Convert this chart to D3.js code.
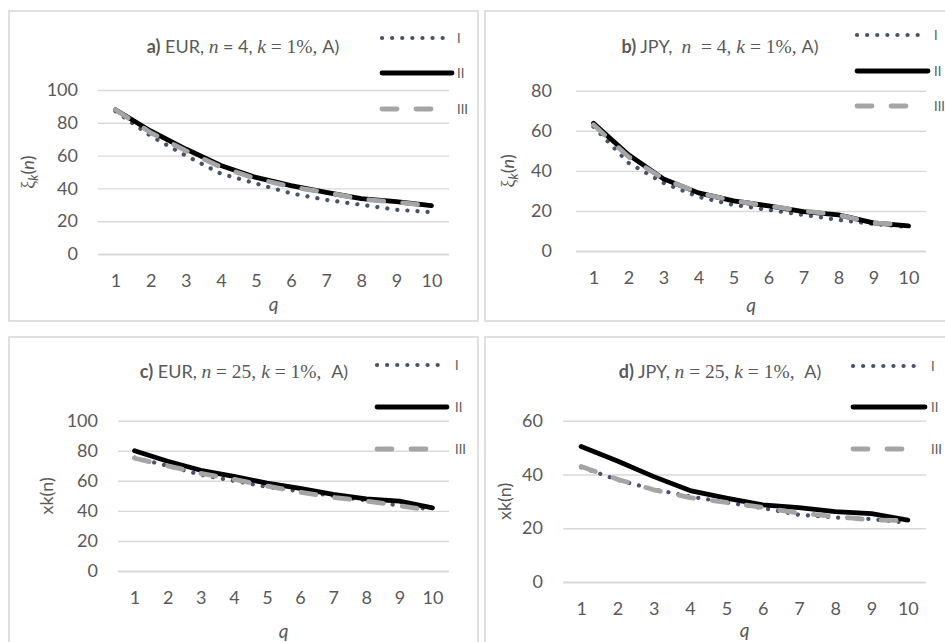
<!DOCTYPE html>
<html>
<head>
<meta charset="utf-8">
<script src="https://cdn.jsdelivr.net/npm/d3@7"></script>
<style>
  html, body { margin: 0; padding: 0; background: #fff; }
  svg { display: block; }
  .tick text { font-family: Lato, "Open Sans", sans-serif; fill: #595959; }
</style>
</head>
<body>
<div id="chart"></div>
<script>
// --- data ---
const qValues = [1, 2, 3, 4, 5, 6, 7, 8, 9, 10];
const seriesNames = ["I", "II", "III"];

const eurN4_I   = [87, 72, 60, 49, 43, 37, 33, 30, 27, 25.5];
const eurN4_II  = [88, 75, 64, 54, 46.7, 41.7, 37.6, 33.8, 32, 29.5];
const eurN4_III = [88, 74, 63, 53, 46, 41, 37.5, 33.5, 31.5, 29.5];

const jpyN4_I   = [62, 44, 34, 27, 23, 20.5, 18, 15.5, 13.5, 12];
const jpyN4_II  = [63.7, 48, 36, 29, 25, 22.5, 19.6, 18, 14, 12.5];
const jpyN4_III = [63, 47, 36, 29, 25, 22.5, 20, 18, 14, 13];

const eurN25_I   = [75.5, 70, 64, 60, 56, 53, 50, 47, 43.5, 41];
const eurN25_II  = [80, 73, 67, 63, 58.5, 55, 51, 48, 46.5, 42];
const eurN25_III = [75, 70, 65, 61, 56.5, 52.5, 49, 46.5, 43.5, 40];

const jpyN25_I   = [42.7, 38, 34.5, 31.8, 29.6, 27.5, 25, 24, 23.4, 22];
const jpyN25_II  = [50.4, 45, 39.2, 34, 31.2, 28.7, 27.7, 26.2, 25.4, 23];
const jpyN25_III = [43, 38.2, 34.3, 31.4, 29.6, 27.8, 25.6, 24.4, 23.1, 22.8];

const yTicksA = [0, 20, 40, 60, 80, 100];
const yTicksB = [0, 20, 40, 60, 80];
const yTicksC = [0, 20, 40, 60, 80, 100];
const yTicksD = [0, 20, 40, 60];

// --- page ---
const width = 945, height = 642;
const sans = "Lato, 'Open Sans', sans-serif";
const serif = "'Liberation Serif', 'DejaVu Serif', serif";
const textColor = "#595959";

const svg = d3.select("#chart").append("svg")
  .attr("width", width)
  .attr("height", height);

// series styles (I dotted, II solid black, III dashed gray)
const styles = [
  { stroke: "#44546a", width: 4.2, dash: "0.1 10" },
  { stroke: "#000000", width: 4.8, dash: null },
  { stroke: "#a5a5a5", width: 4.8, dash: "15 19" }
];

const panels = [
  {
    box: [9, 11, 478, 321],
    plot: { left: 98, right: 449, top: 90, bottom: 254 },
    yMax: 100, yTicks: yTicksA, yPad: 20,
    series: [eurN4_I, eurN4_II, eurN4_III],
    title: [
      { t: "a)", w: "bold" }, { t: " EUR, " },
      { t: "n", f: serif, i: true }, { t: " = 4, " },
      { t: "k", f: serif, i: true }, { t: " = 1%, ", f: serif }, { t: "A)" }
    ],
    titleX: 243, titleY: 53,
    yTitle: "xi", yTitleX: 28,
    legend: { x: 382, len: [65, 70, 58], ys: [38, 73, 109], labelX: 457 },
    qY: 311
  },
  {
    box: [485, 11, 960, 321],
    plot: { left: 576, right: 926, top: 90.7, bottom: 251 },
    yMax: 80, yTicks: yTicksB, yPad: 24,
    series: [jpyN4_I, jpyN4_II, jpyN4_III],
    title: [
      { t: "b)", w: "bold" }, { t: " JPY,  " },
      { t: "n", f: serif, i: true }, { t: "  = 4, ", f: serif },
      { t: "k", f: serif, i: true }, { t: " = 1%, ", f: serif }, { t: "A)" }
    ],
    titleX: 720, titleY: 53,
    yTitle: "xi", yTitleX: 508,
    legend: { x: 857, len: [68, 71, 58], ys: [35, 71, 106], labelX: 934 },
    qY: 312
  },
  {
    box: [9, 337, 478, 660],
    plot: { left: 118, right: 449, top: 420.7, bottom: 571 },
    yMax: 100, yTicks: yTicksC, yPad: 20,
    series: [eurN25_I, eurN25_II, eurN25_III],
    title: [
      { t: "c)", w: "bold" }, { t: " EUR, " },
      { t: "n", f: serif, i: true }, { t: " = 25, ", f: serif },
      { t: "k", f: serif, i: true }, { t: " = 1%,  ", f: serif }, { t: "A)" }
    ],
    titleX: 244, titleY: 378,
    yTitle: "xk(n)", yTitleX: 47,
    legend: { x: 377, len: [65, 70, 65], ys: [365, 407, 449], labelX: 455 },
    qY: 638
  },
  {
    box: [485, 337, 960, 660],
    plot: { left: 563, right: 926, top: 420.7, bottom: 582 },
    yMax: 60, yTicks: yTicksD, yPad: 20,
    series: [jpyN25_I, jpyN25_II, jpyN25_III],
    title: [
      { t: "d)", w: "bold" }, { t: " JPY, " },
      { t: "n", f: serif, i: true }, { t: " = 25, ", f: serif },
      { t: "k", f: serif, i: true }, { t: " = 1%,  ", f: serif }, { t: "A)" }
    ],
    titleX: 720, titleY: 378,
    yTitle: "xk(n)", yTitleX: 505,
    legend: { x: 853, len: [64, 72, 64], ys: [366, 407, 449], labelX: 931 },
    qY: 637
  }
];

function styleLine(sel, s) {
  sel.attr("fill", "none")
    .attr("stroke", s.stroke)
    .attr("stroke-width", s.width)
    .attr("stroke-linecap", "round")
    .attr("stroke-linejoin", "round")
    .attr("stroke-dasharray", s.dash);
}

function drawPanel(p) {
  const g = svg.append("g");

  // panel frame
  g.append("rect")
    .attr("x", p.box[0]).attr("y", p.box[1])
    .attr("width", p.box[2] - p.box[0]).attr("height", p.box[3] - p.box[1])
    .attr("fill", "none")
    .attr("stroke", "#d9d9d9")
    .attr("stroke-width", 1.6);

  const x = d3.scalePoint()
    .domain(qValues)
    .range([p.plot.left, p.plot.right])
    .padding(0.5);

  const y = d3.scaleLinear()
    .domain([0, p.yMax])
    .range([p.plot.bottom, p.plot.top]);

  // y axis + gridlines
  const yAxis = g.append("g")
    .attr("transform", `translate(${p.plot.left},0)`)
    .call(d3.axisLeft(y)
      .tickValues(p.yTicks)
      .tickSize(-(p.plot.right - p.plot.left))
      .tickPadding(p.yPad));
  yAxis.select(".domain").remove();
  yAxis.selectAll(".tick line")
    .attr("stroke", "#d9d9d9")
    .attr("stroke-width", d => d === 0 ? 2 : 1.4);
  yAxis.selectAll(".tick text").attr("font-size", 18);

  // x axis labels
  const xAxis = g.append("g")
    .attr("transform", `translate(0,${p.plot.bottom})`)
    .call(d3.axisBottom(x).tickSize(0).tickPadding(20));
  xAxis.select(".domain").remove();
  xAxis.selectAll(".tick text").attr("font-size", 18);

  // lines
  const line = d3.line()
    .x((d, i) => x(qValues[i]))
    .y(d => y(d));

  p.series.forEach((vals, i) => {
    g.append("path")
      .datum(vals)
      .attr("d", line)
      .call(styleLine, styles[i]);
  });

  // title
  const title = g.append("text")
    .attr("x", p.titleX).attr("y", p.titleY)
    .attr("text-anchor", "middle")
    .attr("font-family", sans)
    .attr("font-size", 18)
    .attr("fill", textColor)
    .style("white-space", "pre");
  p.title.forEach(part => {
    title.append("tspan")
      .text(part.t)
      .attr("font-family", part.f || sans)
      .attr("font-size", part.f ? 19.5 : 18)
      .attr("font-style", part.i ? "italic" : null)
      .attr("font-weight", part.w || null);
  });

  // y title
  const cy = (p.plot.top + p.plot.bottom) / 2;
  const yt = g.append("text")
    .attr("transform", `translate(${p.yTitleX},${cy}) rotate(-90)`)
    .attr("text-anchor", "middle")
    .attr("dy", "0.35em")
    .attr("font-family", sans)
    .attr("font-size", 18)
    .attr("fill", textColor);
  if (p.yTitle === "xi") {
    yt.append("tspan").text("ξ").attr("font-family", serif).attr("font-size", 18);
    yt.append("tspan").text("k").attr("font-style", "italic").attr("font-size", 13).attr("dy", 4);
    yt.append("tspan").text("(").attr("dy", -4);
    yt.append("tspan").text("n").attr("font-style", "italic");
    yt.append("tspan").text(")");
  } else {
    yt.text(p.yTitle);
  }

  // q label
  g.append("text")
    .attr("x", (p.plot.left + p.plot.right) / 2)
    .attr("y", p.qY)
    .attr("text-anchor", "middle")
    .attr("font-family", sans)
    .attr("font-style", "italic")
    .attr("font-size", 19)
    .attr("fill", textColor)
    .text("q");

  // legend
  seriesNames.forEach((name, i) => {
    const ly = p.legend.ys[i];
    g.append("line")
      .attr("x1", p.legend.x).attr("x2", p.legend.x + p.legend.len[i])
      .attr("y1", ly).attr("y2", ly)
      .call(styleLine, styles[i]);
    g.append("text")
      .attr("x", p.legend.labelX)
      .attr("y", ly)
      .attr("dy", "0.35em")
      .attr("font-family", sans)
      .attr("font-size", 13)
      .attr("fill", textColor)
      .text(name);
  });
}

panels.forEach(drawPanel);
</script>
</body>
</html>
